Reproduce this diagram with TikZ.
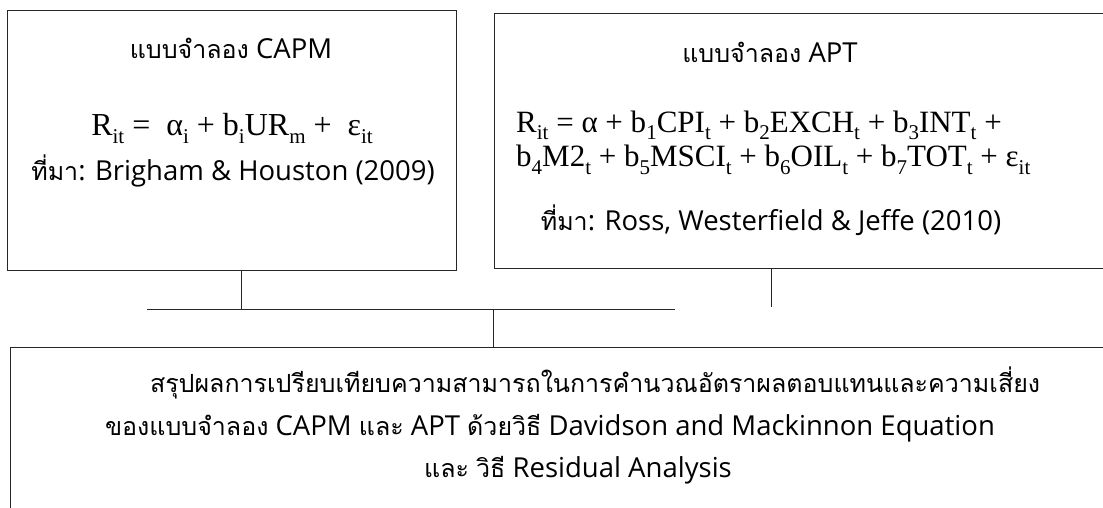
\documentclass[tikz,border=0pt]{standalone}
\usepackage{fontspec}
\setmainfont{Open Sans}
\newfontfamily\thaifont[Script=Thai]{Loma}
\newfontfamily\eqfont{Liberation Serif}
\newcommand\T[1]{{\thaifont\fontsize{25}{30}\selectfont #1}}
\newcommand\sub[1]{\raisebox{-0.24em}{\fontsize{21}{21}\selectfont #1}}
\newcommand\eqsize{\eqfont\fontsize{31}{35}\selectfont}
\newcommand\eqsizeL{\eqfont\fontsize{32}{36}\selectfont}
\begin{document}
\begin{tikzpicture}[x=1pt,y=-1pt,
  box/.style={draw=black!85, line width=1.4pt, inner sep=0pt, anchor=north west},
  conn/.style={draw=black!85, line width=1pt},
  txt/.style={anchor=base, inner sep=0pt, font=\fontsize{27.5}{32}\selectfont},
  eqtxt/.style={anchor=base west, inner sep=0pt, font=\eqsize}]
\useasboundingbox (0,0) rectangle (1103,508);
\fill[white] (0,0) rectangle (1103,508);
% boxes
\node[box, minimum width=449pt, minimum height=260pt] (capm) at (7,10) {};
\node[box, minimum width=700pt, minimum height=255pt] (apt) at (494,13) {};
\node[box, minimum width=1200pt, minimum height=250pt] (sum) at (10,347) {};
% CAPM box text
\node[txt] (capmtitle) at (231,59) {\T{แบบจำลอง} CAPM};
\node[txt, font=\eqsizeL] (capmeq) at (232,136) {R\sub{it} = \ α\sub{i} + b\sub{i}UR\sub{m} + \ ε\sub{it}};
\node[txt] (capmsrc) at (233,180) {\T{ที่มา}: Brigham \& Houston (2009)};
% APT box text
\node[txt] (apttitle) at (770,63) {\T{แบบจำลอง} APT};
\node[eqtxt] (apteq1) at (516,132) {R\sub{it} = α + b\sub{1}CPI\sub{t} + b\sub{2}EXCH\sub{t} + b\sub{3}INT\sub{t} +};
\node[eqtxt] (apteq2) at (516,167) {b\sub{4}M2\sub{t} + b\sub{5}MSCI\sub{t} + b\sub{6}OIL\sub{t} + b\sub{7}TOT\sub{t} + ε\sub{it}};
\node[txt] (aptsrc) at (771,230) {\T{ที่มา}: Ross, Westerfield \& Jeffe (2010)};
% summary text
\node[txt] (sum1) at (595,392) {\T{สรุปผลการเปรียบเทียบความสามารถในการคำนวณอัตราผลตอบแทนและความเสี่ยง}};
\node[txt] (sum2) at (550,435) {\T{ของแบบจำลอง} CAPM \T{และ} APT \T{ด้วยวิธี} Davidson and Mackinnon Equation};
\node[txt] (sum3) at (578,477) {\T{และ} \T{วิธี} Residual Analysis};
% connectors
\coordinate (hl) at (147,309);
\coordinate (hr) at (675,309);
\coordinate (c1) at (241,309);
\coordinate (c2) at (493,309);
\coordinate (c3) at (771,307);
\draw[conn] (hl) -- (hr);
\draw[conn] (capm.south -| c1) -- (c1);
\draw[conn] (c2) -- (c2 |- sum.north);
\draw[conn] (apt.south -| c3) -- (c3);
\end{tikzpicture}
\end{document}
